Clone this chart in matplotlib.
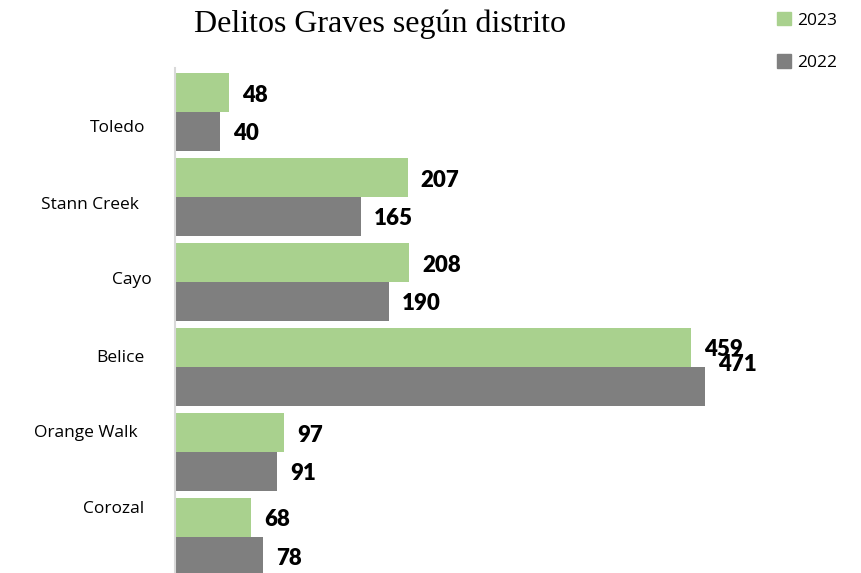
import numpy as np
import matplotlib.pyplot as plt
from matplotlib.patches import Patch

# datos
distritos = ["Toledo", "Stann Creek", "Cayo", "Belice", "Orange Walk", "Corozal"]
v2023 = [48, 207, 208, 459, 97, 68]
v2022 = [40, 165, 190, 471, 91, 78]

verde = "#a9d18e"
gris = "#7f7f7f"

fig = plt.figure(figsize=(8.62, 5.73), dpi=100)
W, H = 862, 573
ax = fig.add_axes([175 / W, 0, 605 / W, (573 - 68) / H])

y = np.arange(len(distritos))
alto = 0.46
ax.barh(y - alto / 2, v2023, height=alto, color=verde, label="2023")
ax.barh(y + alto / 2, v2022, height=alto, color=gris, label="2022")

ax.set_xlim(0, 605 / 1.125)
ax.set_ylim((573 - 112) / 85, -44 / 85)

# etiquetas de valores
off = 13 / 1.125
for i in range(len(distritos)):
    ax.text(v2023[i] + off, y[i] - alto / 2 + 0.03, str(v2023[i]), va="center", ha="left",
            fontsize=16, fontweight="heavy", family="Lato")
    dy = -0.28 if distritos[i] == "Belice" else 0
    ax.text(v2022[i] + off, y[i] + alto / 2 + dy + 0.02, str(v2022[i]), va="center", ha="left",
            fontsize=16, fontweight="heavy", family="Lato")

# nombres de distritos (desplazados como en el original)
pos_nombres = [0.19, 1.094, 1.976, 2.894, 3.776, 4.67]
borde_px = [145, 139, 152, 145, 138, 144]
for i, d in enumerate(distritos):
    ax.text((borde_px[i] - 175) / 1.125, pos_nombres[i], d, ha="right", va="center",
            fontsize=12.5, family="Open Sans")

ax.set_xticks([])
ax.set_yticks([])
for s in ["top", "right", "bottom"]:
    ax.spines[s].set_visible(False)
ax.spines["left"].set_color("#d9d9d9")
ax.spines["left"].set_linewidth(1.5)

fig.text(380 / W, 1 - 24 / H, "Delitos Graves según distrito", ha="center", va="center",
         fontsize=23, family="Liberation Serif")

handles = [Patch(color=verde, label="2023"), Patch(color=gris, label="2022")]
fig.legend(handles=handles, loc="upper left", bbox_to_anchor=(761 / W, 1 + 4 / H),
           frameon=False, prop={"family": "Open Sans", "size": 12.5},
           handlelength=0.85, handleheight=0.85, handletextpad=0.35, labelspacing=1.45)

fig.savefig("out.png", dpi=100)
